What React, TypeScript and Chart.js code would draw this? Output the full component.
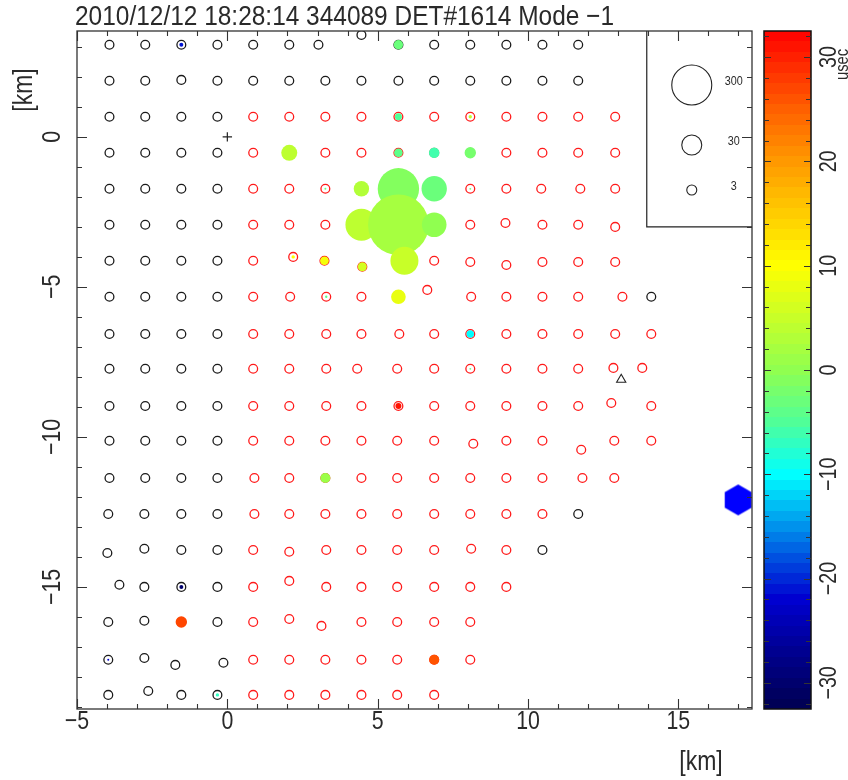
import React, { useEffect, useRef } from "react";
import { Chart, registerables } from "chart.js";
Chart.register(...registerables);

// ---------- text ----------
const TITLE = "2010/12/12 18:28:14 344089 DET#1614 Mode \u22121";
const X_TITLE = "[km]";
const Y_TITLE = "[km]";
const COLOR_TITLE = "usec";

// ---------- axes ----------
const X_RANGE = [-5, 17.45];
const Y_RANGE = [-19.07, 3.53];
const xTickLabels = [-5, 0, 5, 10, 15];
const yTickLabels = [0, -5, -10, -15];
const COLOR_RANGE = [-32.5, 32.5];
const colorTickLabels = [30, 20, 10, 0, -10, -20, -30];
const legendCharges = [300, 30, 3];
const legendLabels = ["300", "30", "3"];

// ---------- colour map (usec -> colour) ----------
const cmapValues = [-32.5, -27, -22, -18, -14, -10, -5, 0, 5, 10, 15, 20, 25, 32.5];
const cmapColors = [
  "#000050", "#000090", "#0000d0", "#0050e0", "#00a8f0", "#00ffff", "#50ff98",
  "#90ff50", "#c8ff28", "#ffff00", "#ffcc00", "#ff9900", "#ff6000", "#ff0000",
];

// ---------- detectors [x km, y km] ----------
const blackDetectors: [number, number][] = [
  [-3.92, 3.07], [-2.73, 3.07], [-1.53, 3.07], [-0.33, 3.07], [0.86, 3.07], [2.06, 3.07], [3.03, 3.07],
  [4.46, 3.4], [5.69, 3.07], [6.88, 3.07], [8.08, 3.07], [9.28, 3.07], [10.48, 3.07], [11.67, 3.07],
  [-3.92, 1.87], [-2.73, 1.87], [-1.53, 1.9], [-0.33, 1.87], [0.86, 1.87], [2.06, 1.87], [3.26, 1.87],
  [4.46, 1.87], [5.69, 1.87], [6.88, 1.87], [8.08, 1.87], [9.28, 1.87], [10.48, 1.87], [11.67, 1.87],
  [-3.92, 0.67], [-2.73, 0.67], [-1.53, 0.67], [-0.33, 0.67],
  [-3.92, -0.53], [-2.73, -0.53], [-1.53, -0.53], [-0.33, -0.53],
  [-3.92, -1.73], [-2.73, -1.73], [-1.53, -1.73], [-0.33, -1.73],
  [-3.92, -2.93], [-2.73, -2.93], [-1.53, -2.93], [-0.33, -2.93],
  [-3.92, -4.13], [-2.73, -4.13], [-1.53, -4.13], [-0.33, -4.13],
  [-3.92, -5.33], [-2.73, -5.33], [-1.53, -5.33], [-0.33, -5.33], [14.1, -5.33],
  [-3.92, -6.57], [-2.73, -6.57], [-1.53, -6.57], [-0.33, -6.57],
  [-3.92, -7.73], [-2.73, -7.73], [-1.53, -7.73], [-0.33, -7.73],
  [-3.92, -8.97], [-2.73, -8.97], [-1.53, -8.97], [-0.33, -8.97],
  [-3.92, -10.13], [-2.73, -10.13], [-1.53, -10.13], [-0.33, -10.13],
  [-3.92, -11.37], [-2.73, -11.37], [-1.53, -11.37], [-0.33, -11.37],
  [-3.96, -12.57], [-2.76, -12.57], [-1.53, -12.57], [-0.33, -12.57], [11.67, -12.57],
  [-3.99, -13.87], [-2.76, -13.73], [-1.53, -13.77], [-0.33, -13.77], [10.48, -13.77],
  [-3.59, -14.93], [-2.76, -15.0], [-1.53, -15.0], [-0.33, -15.0],
  [-3.96, -16.17], [-2.76, -16.13], [-1.53, -16.17], [-0.33, -16.17],
  [-3.96, -17.43], [-2.76, -17.37], [-1.73, -17.6], [-0.13, -17.53],
  [-3.96, -18.6], [-2.63, -18.47], [-1.53, -18.6], [-0.33, -18.6],
];

const redDetectors: [number, number][] = [
  [0.86, 0.67], [2.06, 0.67], [3.26, 0.67], [4.46, 0.67], [5.69, 0.67], [6.88, 0.67], [8.08, 0.67],
  [9.28, 0.67], [10.48, 0.67], [11.67, 0.67], [12.9, 0.67],
  [0.86, -0.53], [2.06, -0.53], [3.26, -0.53], [4.46, -0.53], [5.69, -0.53], [6.88, -0.53], [8.08, -0.53],
  [9.28, -0.53], [10.48, -0.53], [11.67, -0.53], [12.9, -0.53],
  [0.86, -1.73], [2.06, -1.73], [3.26, -1.73], [4.46, -1.73], [5.69, -1.73], [6.88, -1.73], [8.08, -1.73],
  [9.28, -1.73], [10.44, -1.73], [11.74, -1.73], [12.9, -1.73],
  [0.86, -2.93], [2.06, -2.93], [3.26, -2.93], [4.46, -2.93], [5.69, -2.93], [6.88, -2.93], [8.08, -2.93],
  [9.25, -2.87], [10.48, -2.93], [11.67, -2.93], [12.9, -3.0],
  [0.86, -4.13], [2.19, -4.0], [3.23, -4.13], [4.49, -4.33], [5.89, -4.13], [6.88, -4.13], [8.08, -4.17],
  [9.28, -4.27], [10.48, -4.17], [11.67, -4.17], [12.9, -4.17],
  [0.86, -5.33], [2.09, -5.33], [3.29, -5.33], [4.46, -5.33], [5.69, -5.33], [6.65, -5.1], [8.11, -5.33],
  [9.28, -5.33], [10.48, -5.33], [11.67, -5.33], [13.14, -5.33],
  [0.86, -6.57], [2.06, -6.57], [3.29, -6.57], [4.46, -6.57], [5.72, -6.57], [6.88, -6.57], [8.08, -6.57],
  [9.28, -6.57], [10.48, -6.57], [11.67, -6.57], [12.9, -6.57], [14.1, -6.57],
  [0.86, -7.73], [2.06, -7.73], [3.29, -7.73], [4.32, -7.73], [5.65, -7.73], [6.88, -7.73], [8.08, -7.73],
  [9.28, -7.73], [10.48, -7.73], [11.67, -7.73], [12.84, -7.7], [13.8, -7.7],
  [0.86, -8.97], [2.06, -8.97], [3.29, -8.97], [4.46, -8.97], [5.69, -8.97], [6.88, -8.97], [8.08, -8.97],
  [9.28, -8.97], [10.48, -8.97], [11.67, -8.97], [12.77, -8.87], [14.1, -8.97],
  [0.86, -10.13], [2.06, -10.13], [3.26, -10.13], [4.46, -10.13], [5.65, -10.13], [6.88, -10.13],
  [8.18, -10.23], [9.28, -10.13], [10.48, -10.13], [11.77, -10.43], [12.87, -10.13], [14.1, -10.13],
  [0.9, -11.37], [2.06, -11.37], [3.26, -11.37], [4.46, -11.37], [5.65, -11.37], [6.88, -11.37],
  [8.08, -11.37], [9.28, -11.37], [10.48, -11.37], [11.81, -11.37], [12.87, -11.37],
  [0.9, -12.57], [2.06, -12.57], [3.26, -12.57], [4.46, -12.57], [5.65, -12.57], [6.88, -12.57],
  [8.08, -12.57], [9.28, -12.57], [10.48, -12.57],
  [0.86, -13.77], [2.06, -13.83], [3.29, -13.77], [4.46, -13.77], [5.65, -13.77], [6.88, -13.77],
  [8.11, -13.73], [9.28, -13.77],
  [0.86, -15.0], [2.06, -14.8], [3.29, -15.0], [4.46, -15.0], [5.65, -15.0], [6.88, -15.0],
  [8.08, -15.0], [9.28, -15.0],
  [0.86, -16.17], [2.06, -16.07], [3.13, -16.3], [4.46, -16.17], [5.65, -16.17], [6.88, -16.17], [8.08, -16.17],
  [0.86, -17.43], [2.06, -17.43], [3.26, -17.43], [4.46, -17.43], [5.65, -17.43], [6.88, -17.43], [8.08, -17.43],
  [0.86, -18.6], [2.06, -18.6], [3.26, -18.6], [4.46, -18.6], [5.65, -18.6], [6.88, -18.6],
];

// ---------- hit detectors: [x km, y km, charge (VEM), time (usec)] ----------
const hits: [number, number, number, number][] = [
  [-1.53, 3.07, 0.14, -21],
  [5.69, 3.07, 2.4, -3],
  [5.69, 0.67, 0.92, -5],
  [8.08, 0.67, 0.08, 4],
  [2.06, -0.53, 14.3, 4],
  [5.69, -0.53, 1.8, -4],
  [6.88, -0.53, 3.6, -6],
  [8.08, -0.53, 4.6, -2],
  [3.26, -1.73, 0.014, -3],
  [4.46, -1.73, 12.6, 3],
  [5.69, -1.73, 336, -1],
  [6.88, -1.73, 66, -3],
  [8.08, -1.73, 0.01, -2],
  [4.46, -2.93, 143, 4],
  [5.69, -2.93, 1200, 2],
  [6.88, -2.93, 60, 0],
  [2.19, -4.0, 0.08, 10],
  [3.23, -4.13, 1.8, 9],
  [4.49, -4.33, 2.1, 6],
  [5.89, -4.13, 92, 5],
  [3.29, -5.33, 0.025, -4],
  [5.69, -5.33, 10.6, 8],
  [8.08, -6.57, 1.1, -10],
  [8.08, -7.73, 0.01, -3],
  [5.69, -8.97, 0.55, 31],
  [3.26, -11.37, 3, 1],
  [-1.53, -15.0, 0.14, -30],
  [-1.53, -16.17, 4.6, 27],
  [6.88, -17.43, 3, 26],
  [-3.96, -17.43, 0.014, -22],
  [-0.33, -18.6, 0.08, -7],
];

// ---------- special markers ----------
const originMark: [number, number][] = [[0, 0]];
const triangleMark: [number, number][] = [[13.1, -8.09]];
const hexagonMark: [number, number][] = [[16.99, -12.1]];

// ---------- helpers ----------
function hexToRgb(h: string) {
  return [parseInt(h.slice(1, 3), 16), parseInt(h.slice(3, 5), 16), parseInt(h.slice(5, 7), 16)];
}
function colorFor(t: number) {
  const v = Math.max(cmapValues[0], Math.min(cmapValues[cmapValues.length - 1], t));
  let i = 0;
  while (i < cmapValues.length - 2 && v > cmapValues[i + 1]) i++;
  const f = (v - cmapValues[i]) / (cmapValues[i + 1] - cmapValues[i]);
  const a = hexToRgb(cmapColors[i]);
  const b = hexToRgb(cmapColors[i + 1]);
  const c = a.map((x, k) => Math.round(x + (b[k] - x) * f));
  return `rgb(${c[0]},${c[1]},${c[2]})`;
}
// radius doubles for each factor of 10 in charge; 3 VEM -> 5 px
function radiusFor(q: number) {
  return 5 * Math.pow(2, Math.log10(q / 3));
}
const FONT = '"Liberation Sans", Arial, sans-serif';
function text(
  ctx: CanvasRenderingContext2D, s: string, x: number, y: number, size: number,
  opt: { align?: CanvasTextAlign; rotate?: boolean; sx?: number; baseline?: CanvasTextBaseline } = {}
) {
  ctx.save();
  ctx.translate(x, y);
  if (opt.rotate) ctx.rotate(-Math.PI / 2);
  ctx.scale(opt.sx ?? 0.82, 1);
  ctx.font = `${size}px ${FONT}`;
  ctx.fillStyle = "#2a2a2a";
  ctx.textAlign = opt.align ?? "center";
  ctx.textBaseline = opt.baseline ?? "middle";
  ctx.fillText(s, 0, 0);
  ctx.restore();
}
function fmt(v: number) {
  return v < 0 ? "\u2212" + Math.abs(v) : String(v);
}
function makeHexagon(r: number, color: string) {
  const c = document.createElement("canvas");
  const s = Math.ceil(2 * r + 2);
  c.width = s;
  c.height = s;
  const g = c.getContext("2d")!;
  g.fillStyle = color;
  g.beginPath();
  for (let i = 0; i < 6; i++) {
    const a = Math.PI / 2 + (i * Math.PI) / 3;
    const px = s / 2 + r * Math.cos(a);
    const py = s / 2 + r * Math.sin(a);
    if (i === 0) g.moveTo(px, py);
    else g.lineTo(px, py);
  }
  g.closePath();
  g.fill();
  return c;
}

const framePlugin = {
  id: "framePlugin",
  afterDatasetsDraw(chart: any) {
    const { ctx, chartArea: a, scales } = chart;
    const x = scales.x;
    const y = scales.y;
    ctx.save();
    ctx.strokeStyle = "#222";
    ctx.lineWidth = 1.2;
    // legend box
    const lx = x.getPixelForValue(13.95);
    const ly = y.getPixelForValue(-3.0);
    ctx.beginPath();
    ctx.moveTo(lx, a.top);
    ctx.lineTo(lx, ly);
    ctx.lineTo(a.right, ly);
    ctx.stroke();
    const legY = [54, 114, 159];
    legendCharges.forEach((q, i) => {
      ctx.beginPath();
      ctx.lineWidth = 1.1;
      ctx.arc(lx + 45, a.top + legY[i], radiusFor(q), 0, Math.PI * 2);
      ctx.stroke();
      text(ctx, legendLabels[i], lx + 87, a.top + legY[i] - 3, 12, { sx: 0.9 });
    });
    // frame
    ctx.lineWidth = 1.3;
    ctx.strokeStyle = "#333";
    ctx.strokeRect(a.left, a.top, a.right - a.left, a.bottom - a.top);
    // ticks
    ctx.lineWidth = 1.1;
    ctx.beginPath();
    for (let v = Math.ceil(x.min); v <= x.max; v++) {
      const px = Math.round(x.getPixelForValue(v)) + 0.5;
      const len = v % 5 === 0 ? 10 : 5;
      ctx.moveTo(px, a.bottom);
      ctx.lineTo(px, a.bottom - len);
      ctx.moveTo(px, a.top);
      ctx.lineTo(px, a.top + len);
    }
    for (let v = Math.ceil(y.min); v <= y.max; v++) {
      const py = Math.round(y.getPixelForValue(v)) + 0.5;
      const len = v % 5 === 0 ? 10 : 5;
      ctx.moveTo(a.left, py);
      ctx.lineTo(a.left + len, py);
      ctx.moveTo(a.right, py);
      ctx.lineTo(a.right - len, py);
    }
    ctx.stroke();
    // tick labels
    xTickLabels.forEach((v) => text(ctx, fmt(v), x.getPixelForValue(v), a.bottom + 13, 26));
    yTickLabels.forEach((v) => text(ctx, fmt(v), a.left - 24, y.getPixelForValue(v), 26, { rotate: true }));
    // axis titles
    text(ctx, X_TITLE, 701, 762, 28);
    text(ctx, Y_TITLE, 24, 90, 28, { rotate: true });
    // title
    ctx.save();
    ctx.font = `28px ${FONT}`;
    const w = ctx.measureText(TITLE).width;
    ctx.restore();
    text(ctx, TITLE, 75, 25, 28, { align: "left", baseline: "alphabetic", sx: 539 / w });
    ctx.restore();
  },
};

const colorbarPlugin = {
  id: "colorbarPlugin",
  afterDatasetsDraw(chart: any) {
    const { ctx, chartArea: a, scales } = chart;
    const y = scales.y;
    ctx.save();
    ctx.strokeStyle = "#111";
    ctx.lineWidth = 1.5;
    ctx.strokeRect(a.left, a.top, a.right - a.left, a.bottom - a.top);
    ctx.lineWidth = 1.1;
    ctx.strokeStyle = "#333";
    ctx.beginPath();
    for (let v = -32; v <= 32; v += 2) {
      const py = Math.round(y.getPixelForValue(v)) + 0.5;
      const len = v % 10 === 0 ? 7 : 5;
      ctx.moveTo(a.left, py);
      ctx.lineTo(a.left + len, py);
      ctx.moveTo(a.right, py);
      ctx.lineTo(a.right - len, py);
    }
    ctx.stroke();
    colorTickLabels.forEach((v) => text(ctx, fmt(v), a.right + 18, y.getPixelForValue(v), 24, { rotate: true }));
    text(ctx, COLOR_TITLE, a.right + 32, y.getPixelForValue(29.3), 18, { rotate: true });
    ctx.restore();
  },
};

export default function App() {
  const mainRef = useRef<HTMLCanvasElement>(null);
  const barRef = useRef<HTMLCanvasElement>(null);

  useEffect(() => {
    const hexImg = makeHexagon(15.5, "#0000ff");
    const main = new Chart(mainRef.current!, {
      type: "scatter",
      data: {
        datasets: [
          {
            label: "hits",
            data: hits.map((h) => ({ x: h[0], y: h[1] })),
            pointRadius: (c: any) => radiusFor(hits[c.dataIndex][2]),
            pointBackgroundColor: (c: any) => colorFor(hits[c.dataIndex][3]),
            pointBorderWidth: 0,
            pointBorderColor: "rgba(0,0,0,0)",
            order: 0,
          } as any,
          {
            label: "hexagon",
            data: hexagonMark.map((p) => ({ x: p[0], y: p[1] })),
            pointStyle: hexImg,
            pointRadius: 16,
            order: 1,
          } as any,
          {
            label: "origin",
            data: originMark.map((p) => ({ x: p[0], y: p[1] })),
            pointStyle: "cross",
            pointRadius: 4.7,
            pointBorderColor: "#222",
            pointBorderWidth: 1.2,
            order: 2,
          },
          {
            label: "triangle",
            data: triangleMark.map((p) => ({ x: p[0], y: p[1] })),
            pointStyle: "triangle",
            pointRadius: 5.3,
            pointBorderColor: "#222",
            pointBackgroundColor: "rgba(0,0,0,0)",
            pointBorderWidth: 1.1,
            order: 3,
          },
          {
            label: "red",
            data: redDetectors.map((p) => ({ x: p[0], y: p[1] })),
            pointRadius: 4.4,
            pointBorderColor: "#ff1a1a",
            pointBackgroundColor: "rgba(0,0,0,0)",
            pointBorderWidth: 1.3,
            order: 4,
          },
          {
            label: "black",
            data: blackDetectors.map((p) => ({ x: p[0], y: p[1] })),
            pointRadius: 4.4,
            pointBorderColor: "#1a1a1a",
            pointBackgroundColor: "rgba(0,0,0,0)",
            pointBorderWidth: 1.3,
            order: 5,
          },
        ],
      },
      options: {
        animation: false,
        responsive: false,
        devicePixelRatio: 1,
        layout: { padding: { left: 77, top: 31, right: 848 - 752, bottom: 780 - 709 } },
        scales: {
          x: { type: "linear", min: X_RANGE[0], max: X_RANGE[1], display: false },
          y: { type: "linear", min: Y_RANGE[0], max: Y_RANGE[1], display: false },
        },
        plugins: { legend: { display: false }, tooltip: { enabled: false } },
        events: [],
      },
      plugins: [framePlugin],
    });

    const bar = new Chart(barRef.current!, {
      type: "bar",
      data: {
        labels: [COLOR_TITLE],
        datasets: [
          {
            data: [[COLOR_RANGE[0], COLOR_RANGE[1]]] as any,
            barPercentage: 1,
            categoryPercentage: 1,
            borderWidth: 0,
            backgroundColor: (c: any) => {
              const ch = c.chart;
              const area = ch.chartArea;
              if (!area) return "#888";
              const g = ch.ctx.createLinearGradient(0, area.bottom, 0, area.top);
              const n = 65;
              const span = COLOR_RANGE[1] - COLOR_RANGE[0];
              for (let i = 0; i < n; i++) {
                const v0 = COLOR_RANGE[0] + (span * i) / n;
                const v1 = COLOR_RANGE[0] + (span * (i + 1)) / n;
                const col = colorFor((v0 + v1) / 2);
                g.addColorStop(i / n, col);
                g.addColorStop(Math.min(1, (i + 1) / n - 1e-6), col);
              }
              return g;
            },
          },
        ],
      },
      options: {
        animation: false,
        responsive: false,
        devicePixelRatio: 1,
        layout: { padding: { left: 764, top: 31, right: 848 - 811, bottom: 780 - 709 } },
        scales: {
          x: { display: false },
          y: { type: "linear", min: COLOR_RANGE[0], max: COLOR_RANGE[1], display: false },
        },
        plugins: { legend: { display: false }, tooltip: { enabled: false } },
        events: [],
      },
      plugins: [colorbarPlugin],
    });

    return () => {
      main.destroy();
      bar.destroy();
    };
  }, []);

  return (
    <div style={{ position: "absolute", left: 0, top: 0, width: 848, height: 780, background: "#fff" }}>
      <canvas ref={mainRef} width={848} height={780} style={{ position: "absolute", left: 0, top: 0 }} />
      <canvas ref={barRef} width={848} height={780} style={{ position: "absolute", left: 0, top: 0 }} />
    </div>
  );
}
